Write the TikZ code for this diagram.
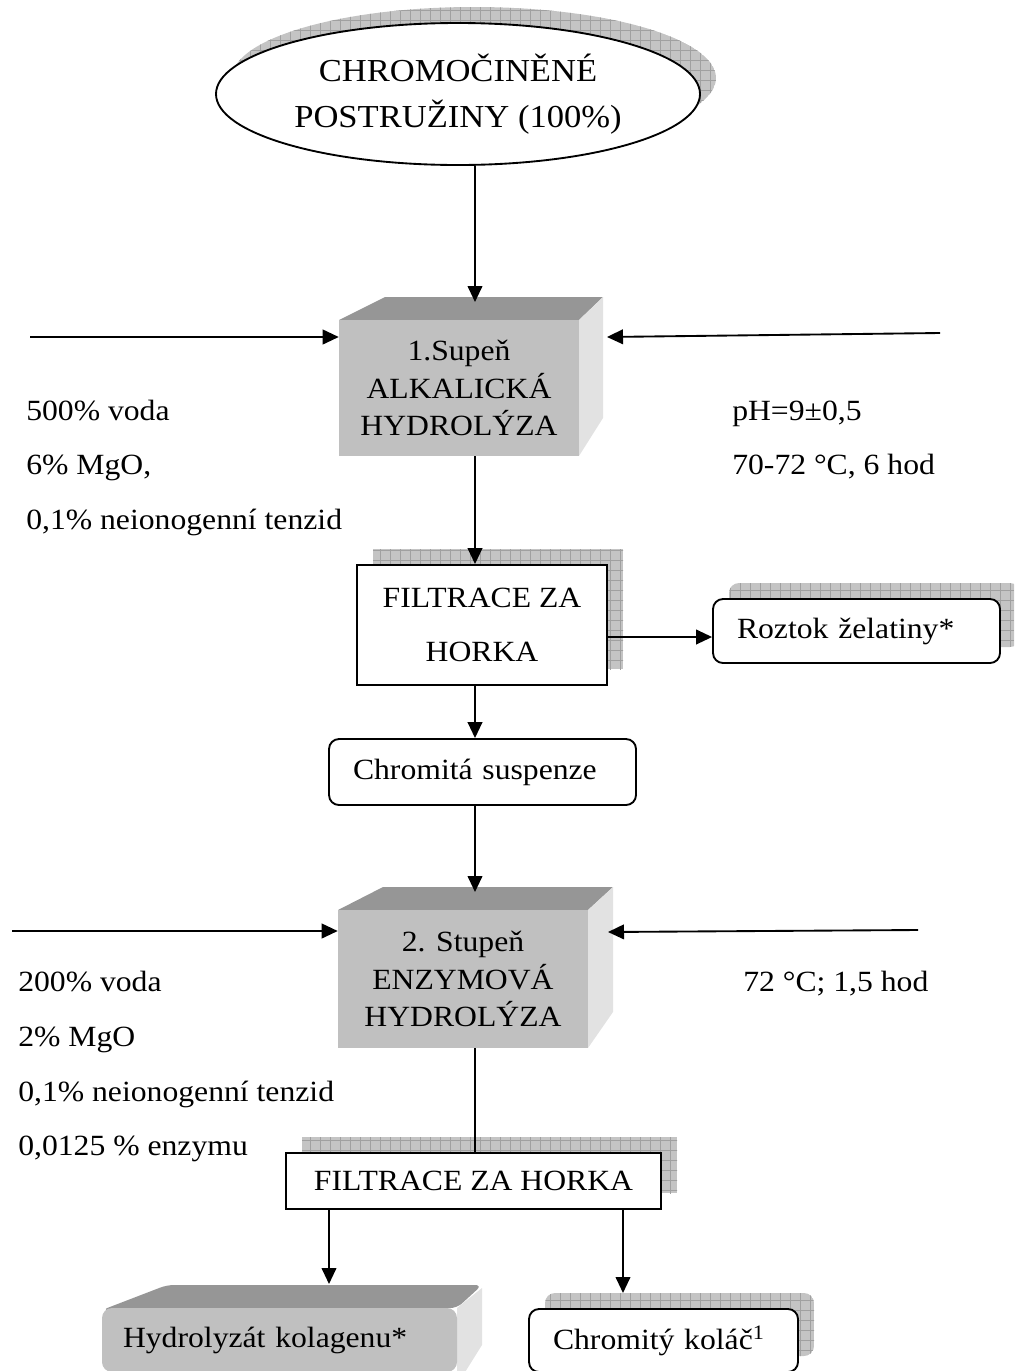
\documentclass[tikz,border=0pt]{standalone}
\usepackage{fontspec}
\setmainfont[FakeStretch=1.08]{Liberation Serif}
\usetikzlibrary{arrows.meta,shapes.geometric}
\definecolor{facegray}{HTML}{C0C0C0}
\definecolor{topgray}{HTML}{969696}
\definecolor{sidegray}{HTML}{E2E2E2}
\definecolor{shfill}{HTML}{C4C4C4}
\definecolor{shline}{HTML}{A0A0A0}
\newcommand\fbody{\fontsize{22}{41}\selectfont}
\newcommand\fcube{\fontsize{22}{28}\selectfont}
\newcommand\fell{\fontsize{24}{35}\selectfont}
\newcommand\gshadow[1]{\begin{scope}\clip #1;\fill[shfill] #1;\draw[shline,line width=0.5pt,step=7.5pt] (0,1371) grid (1014,0);\end{scope}}
\tikzset{
  arr/.style={-{Triangle[length=12pt,width=11pt]}, line width=1.4pt},
  ln/.style={line width=1.4pt},
  sqbox/.style={draw, line width=1.4pt, fill=white, align=center, inner sep=0pt, font=\fbody},
  rbox/.style={draw, line width=1.4pt, fill=white, rounded corners=7.5pt, align=left, inner xsep=18pt, inner ysep=0pt, font=\fbody},
  cube/.style={fill=facegray, align=center, inner sep=0pt, font=\fcube},
  cuber/.style={fill=facegray, rounded corners=7.5pt, align=left, inner xsep=15.75pt, inner ysep=0pt, font=\fbody},
  note/.style={anchor=base west, inner sep=0pt, font=\fbody},
  oval/.style={draw, ellipse, line width=1.4pt, fill=white, inner sep=0pt, align=center, font=\fell}
}
\begin{document}
\begin{tikzpicture}[x=0.75pt,y=-0.75pt]
\useasboundingbox (0,0) rectangle (1014,1371);
\clip (0,0) rectangle (1014,1371);

% source ellipse
\gshadow{(474,78) ellipse [x radius=181.5pt, y radius=53.25pt]}
\node[oval, minimum width=363pt, minimum height=106.5pt] (src) at (458,94) {CHROMOČINĚNÉ\\POSTRUŽINY (100\%)};

% stage 1 cube
\fill[topgray] (339,320) -- (385,297) -- (603,297) -- (579,320) -- cycle;
\fill[sidegray] (579,320) -- (603,297) -- (603,418) -- (579,456) -- cycle;
\node[cube, minimum width=180pt, minimum height=102pt] (hyd1) at (459,388) {1.Supeň\\ALKALICKÁ\\HYDROLÝZA};

% side notes stage 1
\node[note] (n1a) at (26,420) {500\% voda};
\node[note] (n1b) at (26,474) {6\% MgO,};
\node[note] (n1c) at (26,529) {0,1\% neionogenní tenzid};
\node[note] (n1d) at (732,420) {pH=9±0,5};
\node[note] (n1e) at (732,474) {70-72 °C, 6 hod};

% filtration 1
\gshadow{(373,549) rectangle (623,669)}
\node[sqbox, minimum width=187.5pt, minimum height=90pt] (f1) at (482,625) {FILTRACE ZA\\HORKA};

% gelatin solution
\gshadow{[rounded corners=7.5pt] (729,583) rectangle (1020,647)}
\node[rbox, text width=179.25pt, minimum height=48pt] (roz) at (856.5,631) {Roztok želatiny*};

% chromium suspension
\node[rbox, text width=194.25pt, minimum height=49.5pt] (chs) at (482.5,772) {Chromitá suspenze};

% stage 2 cube
\fill[topgray] (338,910) -- (383,887) -- (613,887) -- (588,910) -- cycle;
\fill[sidegray] (588,910) -- (613,887) -- (613,1012) -- (588,1048) -- cycle;
\node[cube, minimum width=187.5pt, minimum height=103.5pt] (hyd2) at (463,979) {2. Stupeň\\ENZYMOVÁ\\HYDROLÝZA};

% side notes stage 2
\node[note] (n2a) at (18,991) {200\% voda};
\node[note] (n2b) at (18,1046) {2\% MgO};
\node[note] (n2c) at (18,1101) {0,1\% neionogenní tenzid};
\node[note] (n2d) at (18,1155) {0,0125 \% enzymu};
\node[note] (n2e) at (743,991) {72 °C; 1,5 hod};

% filtration 2
\gshadow{(302,1137) rectangle (677,1193)}

% connectors
\coordinate (t1) at (475,302);
\coordinate (t2) at (475,892);
\coordinate (l1) at (30,337);
\coordinate (r1) at (940,333);
\coordinate (r1tip) at (607,337);
\coordinate (ry) at (0,637);
\coordinate (l2) at (12,931);
\coordinate (r2) at (918,930);
\coordinate (r2tip) at (608,932);
\coordinate (hydtip) at (329,1284);
\coordinate (koltip) at (623,1293);

\draw[arr] (t1 |- src.south) -- (t1);
\draw[arr] (l1) -- (l1 -| hyd1.west);
\draw[arr] (r1) -- (r1tip);
\draw[arr] (hyd1.south -| t1) -- (f1.north -| t1);
\draw[arr] (f1.east |- ry) -- (roz.west |- ry);
\draw[arr] (f1.south -| t1) -- (chs.north -| t1);
\draw[arr] (chs.south -| t1) -- (t2);
\draw[arr] (l2) -- (l2 -| hyd2.west);
\draw[arr] (r2) -- (r2tip);

\node[sqbox, minimum width=281.25pt, minimum height=42pt] (f2) at (473.5,1181) {FILTRACE ZA HORKA};
\draw[ln] (hyd2.south -| t1) -- (f2.north -| t1);

% collagen hydrolysate (3D)
\fill[topgray, rounded corners=5pt] (102,1310) -- (167,1285) -- (482,1285) -- (457,1308) -- cycle;
\fill[sidegray] (457,1308) -- (482,1288) -- (482,1345) -- (457,1385) -- cycle;
\node[cuber, text width=234.75pt, minimum height=48pt] (hydro) at (279.5,1340) {Hydrolyzát kolagenu*};

% chromium cake
\gshadow{[rounded corners=7.5pt] (545,1293) rectangle (814,1356)}
\node[rbox, text width=165.75pt, minimum height=47.25pt] (kol) at (663.5,1340.5) {Chromitý koláč\textsuperscript{1}};

\draw[arr] (f2.south -| hydtip) -- (hydtip);
\draw[arr] (f2.south -| koltip) -- (koltip);
\end{tikzpicture}
\end{document}
